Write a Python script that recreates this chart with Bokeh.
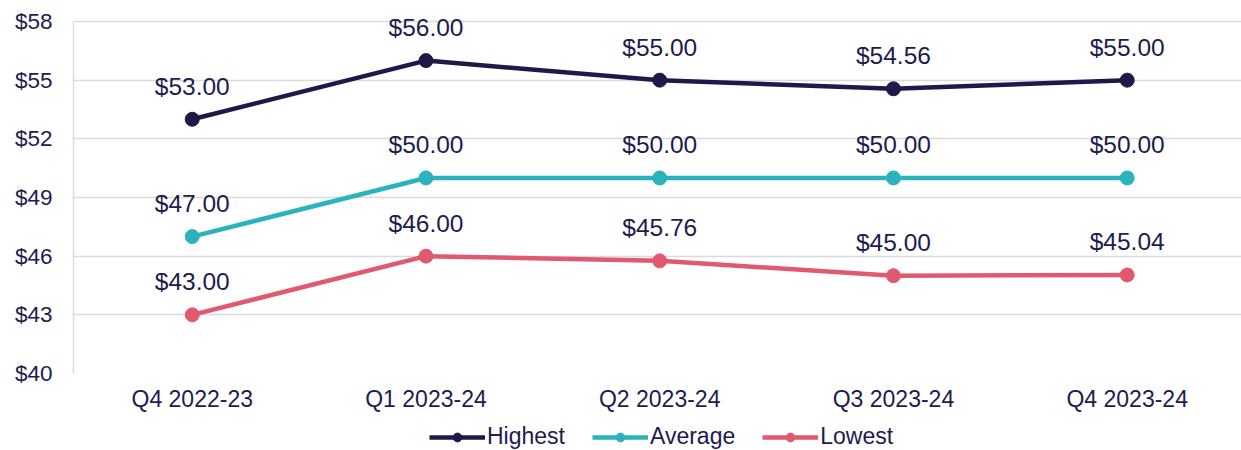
from bokeh.plotting import figure
from bokeh.layouts import column
from bokeh.models import FixedTicker, NumeralTickFormatter, Legend, LegendItem, ColumnDataSource, Range1d
from bokeh.core.properties import value
from bokeh.embed import file_html
from bokeh.resources import INLINE

categories = ["Q4 2022-23", "Q1 2023-24", "Q2 2023-24", "Q3 2023-24", "Q4 2023-24"]
highest = [53.00, 56.00, 55.00, 54.56, 55.00]
average = [47.00, 50.00, 50.00, 50.00, 50.00]
lowest = [43.00, 46.00, 45.76, 45.00, 45.04]
y_ticks = [40, 43, 46, 49, 52, 55, 58]

FONT = "Liberation Sans"
TEXT = "#201c4e"
GRID = "#d9dcdc"
series = [("Highest", highest, "#1f1849"), ("Average", average, "#2bb3bc"), ("Lowest", lowest, "#e0596e")]

xs = list(range(len(categories)))
W = 1241

# frame top at 3px; $58 gridline stays at 21px (352px for 18 units)
p = figure(width=W, height=415, output_backend="svg", toolbar_location=None,
           x_range=Range1d(-0.508, 4.489), y_range=Range1d(40, 58 + 18 * 18 / 352),
           min_border_left=73, min_border_top=3, min_border_right=0, min_border_bottom=42)
p.outline_line_color = None
p.background_fill_color = "white"
p.xgrid.grid_line_color = None
p.ygrid.grid_line_color = GRID
p.ygrid.grid_line_width = 1.5

p.yaxis.ticker = FixedTicker(ticks=y_ticks)
p.yaxis.bounds = (40, 58)
p.yaxis.formatter = NumeralTickFormatter(format="$0")
p.yaxis.axis_line_color = GRID
p.yaxis.axis_line_width = 1.5
p.yaxis.major_tick_line_color = None
p.yaxis.minor_tick_line_color = None
p.yaxis.major_label_standoff = 15
p.yaxis.major_label_text_font = FONT
p.yaxis.major_label_text_font_size = "22.5px"
p.yaxis.major_label_text_color = TEXT

p.xaxis.ticker = FixedTicker(ticks=xs)
p.xaxis.major_label_overrides = {i: c for i, c in enumerate(categories)}
p.xaxis.axis_line_color = None
p.xaxis.major_tick_line_color = None
p.xaxis.minor_tick_line_color = None
p.xaxis.major_label_standoff = 6
p.xaxis.major_label_text_font = FONT
p.xaxis.major_label_text_font_size = "23px"
p.xaxis.major_label_text_color = TEXT

for name, vals, color in series:
    src = ColumnDataSource(dict(x=xs, y=vals, lab=[f"${v:.2f}" for v in vals]))
    p.line("x", "y", source=src, line_color=color, line_width=4.5)
    p.scatter("x", "y", source=src, size=14, fill_color=color, line_color=color)
    p.text("x", "y", text="lab", source=src, text_align="center", text_baseline="alphabetic",
           y_offset=-33, text_font=value(FONT), text_font_size="24.5px", text_color=TEXT)

# legend strip (its renderers hold the same data but fall outside its ranges)
lg = figure(width=W, height=35, output_backend="svg", toolbar_location=None,
            x_range=Range1d(100, 101), y_range=Range1d(100, 101),
            x_axis_location=None, y_axis_location=None,
            min_border_left=0, min_border_top=0, min_border_right=0, min_border_bottom=0)
lg.outline_line_color = None
lg.xgrid.grid_line_color = None
lg.ygrid.grid_line_color = None
items = []
for name, vals, color in series:
    l = lg.line(x=xs, y=vals, line_color=color, line_width=4.5)
    s = lg.scatter(x=xs, y=vals, size=14, fill_color=color, line_color=color)
    items.append(LegendItem(label=name, renderers=[l, s]))
legend = Legend(items=items, orientation="horizontal", location=(356, 0),
                label_text_font=FONT, label_text_font_size="23px", label_text_color=TEXT,
                glyph_width=56, glyph_height=22, label_standoff=2, spacing=27,
                border_line_color=None, background_fill_alpha=0, padding=0, margin=0)
lg.add_layout(legend)

layout = column(p, lg, spacing=0)
open("out.html", "w").write(file_html(layout, INLINE))
